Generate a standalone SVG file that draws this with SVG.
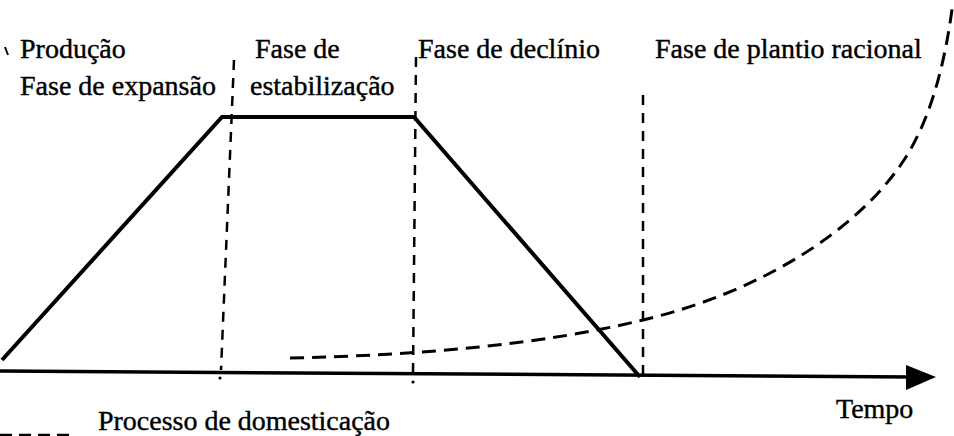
<svg xmlns="http://www.w3.org/2000/svg" width="954" height="436" viewBox="0 0 954 436">
<style>
.t{font-family:"Liberation Serif","Times New Roman","DejaVu Serif",serif;font-size:28px;fill:#000;stroke:#000;stroke-width:0.4}
.solid{fill:none;stroke:#000;stroke-width:4;stroke-linejoin:miter}
.vd{fill:none;stroke:#000;stroke-width:2.5;stroke-dasharray:10 8}
.cd{fill:none;stroke:#000;stroke-width:3;stroke-dasharray:14 8}
</style>
<rect width="954" height="436" fill="#fff"/>
<g id="connectors">
<path id="axis" d="M0,371 L912,377" fill="none" stroke="#000" stroke-width="3.5"/>
<path d="M906,365 L936,377 L906,390 Z" fill="#000"/>
<path id="production" class="solid" d="M2,360 L222,117 L414,117 L640,377"/>
<path class="vd" d="M234,60 L221,370"/>
<circle cx="220" cy="378" r="1.6" fill="#000"/>
<path class="vd" d="M416,57 L413,374"/>
<circle cx="413" cy="382" r="1.6" fill="#000"/>
<path class="vd" d="M643,95 L643,376"/>
<path id="domestication" class="cd" d="M290,358 C420,355 540,345 643,320 C760,292 855,232 902,163 C930,122 945,65 953,2"/>
<path d="M5,47 L8,55" stroke="#000" stroke-width="2"/>
</g>
<g id="label-expansao">
<text class="t" x="20" y="58">Produção</text>
<text class="t" x="20" y="95">Fase de expansão</text>
</g>
<g id="label-estabilizacao">
<text class="t" x="255" y="58">Fase de</text>
<text class="t" x="250" y="95">estabilização</text>
</g>
<g id="label-declinio">
<text class="t" x="418" y="58">Fase de declínio</text>
</g>
<g id="label-plantio">
<text class="t" x="655" y="58">Fase de plantio racional</text>
</g>
<g id="label-tempo">
<text class="t" x="836" y="418" font-size="29">Tempo</text>
</g>
<g id="legend">
<path d="M0,435 L76,435" fill="none" stroke="#000" stroke-width="2.5" stroke-dasharray="12 7"/>
<text class="t" x="98" y="430" font-size="30" textLength="292" lengthAdjust="spacingAndGlyphs">Processo de domesticação</text>
</g>
</svg>
